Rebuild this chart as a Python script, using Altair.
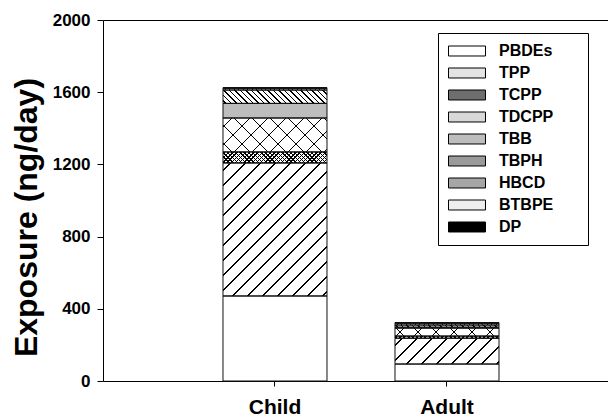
import altair as alt

groups = ["Child", "Adult"]
compounds = ["PBDEs", "TPP", "TCPP", "TDCPP", "TBB", "TBPH", "HBCD", "BTBPE", "DP"]
child = [471, 737, 61, 188, 81, 74, 10, 2, 1]
adult = [94, 143, 12, 44, 5, 12, 10, 3, 1]
y_ticks = [0, 400, 800, 1200, 1600, 2000]

# ---- layout / style constants ----
W, H = 505, 361
BAR = 104
YMAX = 2000
PXU = H / YMAX
FONT = "Liberation Sans"

legend_tones = ["#ffffff", "#e4e4e4", "#6e6e6e", "#d8d8d8", "#bdbdbd",
                "#9a9a9a", "#a6a6a6", "#eeeeee", "#000000"]


def hatch(w, h, kind, period, lw, fg="black", bg="white", m=1.0):
    if kind == "vert":
        S = float(w)
        g = dict(x1=0, y1=0, x2=1, y2=0)
    elif kind == "fwd":
        S = m * w + h
        k = S / ((m * w) ** 2 + h ** 2)
        g = dict(x1=0, y1=0, x2=m * w * k, y2=h * k)
    else:
        S = m * w + h
        k = S / ((m * w) ** 2 + h ** 2)
        g = dict(x1=0, y1=1, x2=m * w * k, y2=1 - h * k)
    stops = [dict(offset=0, color=bg)]
    c = period / 2.0
    while c - lw / 2 < S:
        lo = round(max(0.0, (c - lw / 2) / S), 5)
        hi = round(min(1.0, (c + lw / 2) / S), 5)
        stops += [dict(offset=lo, color=bg), dict(offset=lo, color=fg),
                  dict(offset=hi, color=fg), dict(offset=hi, color=bg)]
        c += period
    stops.append(dict(offset=1, color=bg))
    return dict(gradient="linear", stops=stops, **g)


def patterns(name, h):
    w = BAR
    if name == "PBDEs":
        return "white", "transparent"
    if name == "TPP":
        return hatch(w, h, "fwd", 15, 1.5), "transparent"
    if name == "TCPP":
        return (hatch(w, h, "fwd", 4.2, 1.4),
                hatch(w, h, "back", 4.2, 1.4, bg="rgba(0,0,0,0)"))
    if name == "TDCPP":
        return (hatch(w, h, "fwd", 18, 1.5),
                hatch(w, h, "back", 18, 1.5, bg="rgba(0,0,0,0)"))
    if name == "TBB":
        return "#bdbdbd", "transparent"
    if name == "TBPH":
        return hatch(w, h, "back", 5.5, 1.4), "transparent"
    if name == "HBCD":
        return hatch(w, h, "vert", 4.5, 1.2), "transparent"
    if name == "BTBPE":
        return hatch(w, h, "vert", 13, 1.2), "transparent"
    return "black", "transparent"


records = []
for g, vals in zip(groups, [child, adult]):
    for i, (c, v) in enumerate(zip(compounds, vals)):
        p1, p2 = patterns(c, v * PXU)
        records.append(dict(group=g, compound=c, idx=i, value=v, pat=p1, pat2=p2))

data = alt.Data(values=records)

x_scale = alt.Scale(domain=groups, paddingInner=0.3953, paddingOuter=0.6656, align=0.524)
y_scale = alt.Scale(domain=[0, YMAX], nice=False)

y_axis = alt.Axis(values=y_ticks, format="d", grid=False, tickSize=6,
                  labelFontSize=17, labelPadding=7,
                  title="Exposure (ng/day)", titleFontSize=32, titlePadding=9,
                  titleY=197)

base = alt.Chart(data)

common = dict(
    order=alt.Order("idx:Q", sort="ascending"),
    detail="compound:N",
)

legend = alt.Legend(
    title=None, orient="none", legendX=335, legendY=13,
    symbolType="M-2.5,-0.675H2.5V0.675H-2.5Z", symbolSize=219,
    symbolStrokeColor="black", symbolStrokeWidth=1, symbolOffset=11,
    labelFont=FONT, labelFontSize=16, labelFontWeight="bold", labelColor="black",
    labelOffset=24, rowPadding=6, padding=10,
    strokeColor="black", fillColor="white",
    labelExpr="datum.label + '\u2800\u2800'",
)

layer1 = base.mark_bar(strokeWidth=0).encode(
    x=alt.X("group:N", sort=groups, scale=x_scale,
            axis=alt.Axis(title=None, labelAngle=0, labelFontSize=21, tickSize=5,
                          labelPadding=10, domainColor="black", tickColor="black")),
    y=alt.Y("value:Q", stack="zero", scale=y_scale, axis=y_axis),
    color=alt.Color("compound:N", sort=compounds,
                    scale=alt.Scale(domain=compounds, range=legend_tones), legend=legend),
    **common,
)

layer2 = base.mark_bar(strokeWidth=0).encode(
    x=alt.X("group:N", sort=groups, scale=x_scale, axis=None),
    y=alt.Y("value:Q", stack="zero", scale=y_scale, axis=y_axis),
    fill=alt.Fill("pat:N", scale=None),
    **common,
)

layer3 = base.mark_bar(stroke="#111", strokeWidth=1).encode(
    x=alt.X("group:N", sort=groups, scale=x_scale,
            axis=alt.Axis(orient="top", labels=False, ticks=False, title=None,
                          domainColor="black")),
    y=alt.Y("value:Q", stack="zero", scale=y_scale, axis=y_axis),
    fill=alt.Fill("pat2:N", scale=None),
    **common,
)

chart = alt.layer(layer1, layer2, layer3).resolve_axis(x="independent").properties(
    width=W, height=H,
    autosize=alt.AutoSizeParams(type="none"),
    padding={"left": 95, "top": 12, "right": 0, "bottom": 36},
).configure_axis(
    labelFont=FONT, titleFont=FONT, labelFontWeight="bold", titleFontWeight="bold",
    labelColor="black", titleColor="black", domainColor="black", tickColor="black",
    domainWidth=1,
).configure_view(stroke=None)

chart.save("out.html", embed_options={"renderer": "svg", "actions": False})
